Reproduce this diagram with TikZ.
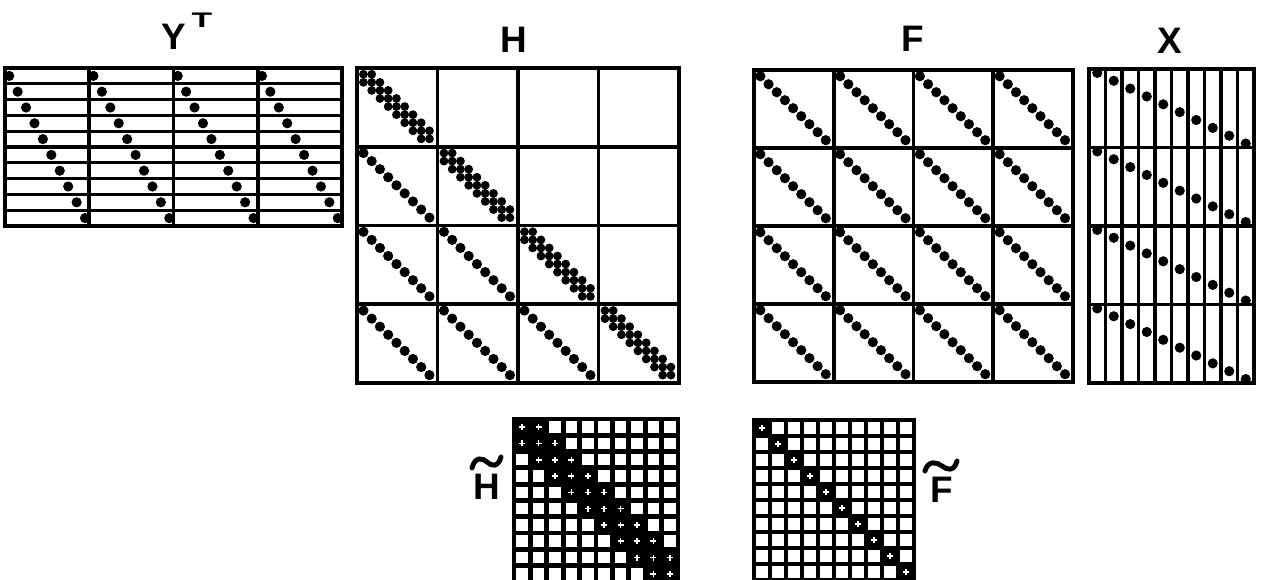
\documentclass[tikz,border=0pt]{standalone}
\usepackage{fontspec}
\setmainfont{Liberation Sans}
\usetikzlibrary{calc,positioning}
\tikzset{
  frame/.style={draw=black, line width=2.2pt},
  rule/.style={draw=black, line width=1.8pt},
  entry/.style={fill=black},
  lbl/.style={font=\fontsize{21}{24}\selectfont\bfseries, inner sep=0pt},
  suplbl/.style={font=\fontsize{12}{14}\selectfont\bfseries, inner sep=0pt},
  tildeline/.style={draw=black, line width=2.8pt, line cap=round},
  blackgrid/.style={fill=black},
  hole/.style={fill=white},
  glint/.style={draw=white, line width=0.9pt},
}
\begin{document}
\begin{tikzpicture}[x=0.02cm,y=-0.02cm]
  \clip (0,0) rectangle (1262,580);
  % Y^T: four identity blocks side by side
  \foreach \r in {1,...,9}
    \draw[rule] (5,{68+\r*15.8}) -- (342,{68+\r*15.8});
  \foreach \b in {1,2,3}
    \draw[frame] ({5+\b*84.25},68) -- ({5+\b*84.25},226);
  \draw[frame] (5,68) rectangle (342,226);
  \foreach \b in {0,...,3}
    \foreach \k in {1,...,10}
      \fill[entry] ({5+\b*84.25+(\k-0.5)*8.425},{68+(\k-0.5)*15.8}) circle[radius=2.9pt];
  % H: block lower triangle, banded diagonal blocks
  \foreach \t in {1,2,3} {
    \draw[frame] ({357+\t*80.5},68) -- ({357+\t*80.5},383);
    \draw[frame] (357,{68+\t*78.75}) -- (679,{68+\t*78.75});
  }
  \draw[frame] (357,68) rectangle (679,383);
  \foreach \i/\j in {1/0,2/0,3/0,2/1,3/1,3/2}
    \foreach \k in {0,...,8}
      \fill[entry] ({357+(\j+0.08+\k*0.1025)*80.5},{68+(\i+0.08+\k*0.1025)*78.75}) circle[radius=2.9pt];
  \foreach \d in {0,...,3} {
    \foreach \k in {0,...,8}
      \fill[entry] ({357+(\d+0.08+\k*0.1025)*80.5},{68+(\d+0.08+\k*0.1025)*78.75}) circle[radius=2.5pt];
    \foreach \k in {0,...,7} {
      \fill[entry] ({357+(\d+0.08+(\k+1)*0.1025)*80.5},{68+(\d+0.08+\k*0.1025)*78.75}) circle[radius=2.5pt];
      \fill[entry] ({357+(\d+0.08+\k*0.1025)*80.5},{68+(\d+0.08+(\k+1)*0.1025)*78.75}) circle[radius=2.5pt];
    }
  }
  % F: full block matrix of diagonals
  \foreach \t in {1,2,3} {
    \draw[frame] ({754+\t*79.75},70) -- ({754+\t*79.75},382);
    \draw[frame] (754,{70+\t*78}) -- (1073,{70+\t*78});
  }
  \draw[frame] (754,70) rectangle (1073,382);
  \foreach \i in {0,...,3}
    \foreach \j in {0,...,3}
      \foreach \k in {0,...,8}
        \fill[entry] ({754+(\j+0.08+\k*0.1025)*79.75},{70+(\i+0.08+\k*0.1025)*78}) circle[radius=2.9pt];
  % X: four identity blocks stacked
  \foreach \c in {1,...,9}
    \draw[rule] ({1089+\c*16.5},69) -- ({1089+\c*16.5},383);
  \foreach \b in {1,2,3}
    \draw[frame] (1089,{69+\b*78.5}) -- (1254,{69+\b*78.5});
  \draw[frame] (1089,69) rectangle (1254,383);
  \foreach \b in {0,...,3}
    \foreach \k in {1,...,10}
      \fill[entry] ({1089+(\k-0.5)*16.5},{69+\b*78.5+(\k-0.5)*7.85}) circle[radius=2.9pt];
  % H tilde: tridiagonal 10 x 10
  \fill[blackgrid] (512,417) rectangle (680,584);
  \foreach \r in {0,...,9}
    \foreach \c in {0,...,9} {
      \pgfmathtruncatemacro\gap{abs(\r-\c)}
      \ifnum\gap>1
        \fill[hole] ({514+\c*16.4+2.4},{419+\r*16.3+2.4}) rectangle ++(11.6,11.5);
      \else
        \draw[glint] ({514+\c*16.4+8.2},{419+\r*16.3+8.15}) ++(-3,0) -- ++(6,0) ++(-3,-3) -- ++(0,6);
      \fi
    }
  % F tilde: diagonal 10 x 10
  \fill[blackgrid] (752,418) rectangle (916,582);
  \foreach \r in {0,...,9}
    \foreach \c in {0,...,9} {
      \ifnum\r=\c
        \draw[glint] ({754+\c*16+8},{420+\r*16+8}) ++(-3,0) -- ++(6,0) ++(-3,-3) -- ++(0,6);
      \else
        \fill[hole] ({754+\c*16+2.3},{420+\r*16+2.3}) rectangle ++(11.4,11.4);
      \fi
    }
  % labels
  \node[lbl] (ylbl) at (174,37) {Y};
  \node[suplbl] (tlbl) at (202,20) {\scalebox{1.6}[1]{T}};
  \node[lbl] (hlbl) at (514,40) {H};
  \node[lbl] (flbl) at (913,39) {F};
  \node[lbl] (xlbl) at (1170,41) {X};
  \node[lbl] (htlbl) at (487,487) {H};
  \draw[tildeline, shift={(htlbl)}] (-15,-19) .. controls (-12,-31) and (-4,-29) .. (0,-25) .. controls (4,-21) and (11,-19) .. (14,-30);
  \node[lbl] (ftlbl) at (942,490) {F};
  \draw[tildeline, shift={(ftlbl)}] (-17,-19) .. controls (-14,-30) and (-5,-28) .. (0,-24) .. controls (5,-20) and (12,-18) .. (15,-29);
\end{tikzpicture}
\end{document}
